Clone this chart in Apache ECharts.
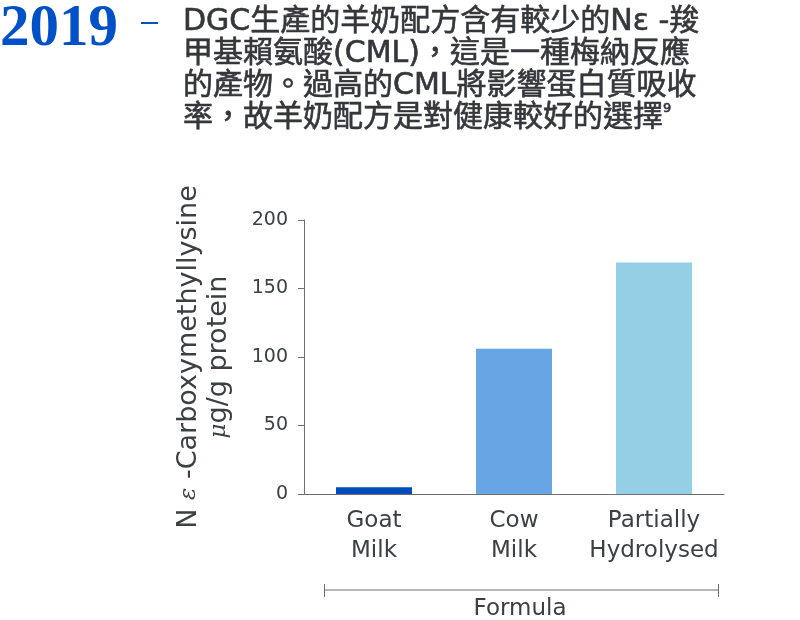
<!DOCTYPE html>
<html><head><meta charset="utf-8">
<script src="https://cdn.jsdelivr.net/npm/echarts@6/dist/echarts.min.js"></script>
<style>html,body{margin:0;padding:0;background:#fff}#c{width:800px;height:620px}</style>
</head><body><div id="c"></div>
<script>
var categories = ['Goat\nMilk', 'Cow\nMilk', 'Partially\nHydrolysed'];
var values = [5, 106, 169];
var barColors = ['#004cbb', '#68a5e4', '#94d0e5'];
var yTicks = [0, 50, 100, 150, 200];
var xAxisTitle = 'Formula';
var yAxisTitle1 = 'N {e|ε} -Carboxymethyllysine';
var yAxisTitle2 = '{e|μ}g/g protein';
var year = '2019';
var headLines = [
  'DGC生產的羊奶配方含有較少的Nε -羧',
  '甲基賴氨酸(CML)，這是一種梅納反應',
  '的產物。過高的CML將影響蛋白質吸收',
  '率，故羊奶配方是對健康較好的選擇{s|9}'
];

var chart = echarts.init(document.getElementById('c'), null, {renderer: 'canvas'});
var txt = '#3c4043';
var axisCol = '#6b6e72';
var latin = '"DejaVu Sans", "Noto Sans CJK TC", sans-serif';
chart.setOption({
  animation: false,
  backgroundColor: '#fff',
  title: {
    text: headLines.join('\n'),
    left: 178, top: 1,
    textStyle: {
      fontFamily: latin, fontSize: 30, fontWeight: 'normal', color: '#33363a', lineHeight: 32,
      textBorderColor: '#33363a', textBorderWidth: 0.6,
      rich: { s: { fontSize: 13, color: '#33363a', verticalAlign: 'top', lineHeight: 32, padding: [0,0,12,0] } }
    }
  },
  graphic: [
    { type: 'text', left: 0, top: 0, style: { text: year, font: 'bold 59px "Liberation Serif", serif', fill: '#0050c8' } },
    { type: 'rect', shape: { x: 141, y: 22, width: 17, height: 2 }, style: { fill: '#0050c8' } },
    { type: 'group', children: [
      { type: 'line', shape: { x1: 324, y1: 590, x2: 719, y2: 590 }, style: { stroke: axisCol, lineWidth: 1 } },
      { type: 'line', shape: { x1: 324.5, y1: 584, x2: 324.5, y2: 597 }, style: { stroke: axisCol, lineWidth: 1 } },
      { type: 'line', shape: { x1: 718.5, y1: 584, x2: 718.5, y2: 597 }, style: { stroke: axisCol, lineWidth: 1 } }
    ]}
  ],
  grid: { left: 304, top: 220, width: 420, bottom: 126, containLabel: false, outerBoundsMode: 'none' },
  xAxis: {
    type: 'category', data: categories,
    name: xAxisTitle, nameLocation: 'middle', nameGap: 104,
    nameTextStyle: { fontFamily: latin, fontSize: 23, color: txt, padding: [0, 0, 0, 12] },
    axisLine: { lineStyle: { color: axisCol, width: 1 } },
    axisTick: { show: false },
    axisLabel: { fontFamily: latin, fontSize: 23, color: txt, lineHeight: 30, margin: 12, interval: 0 }
  },
  yAxis: {
    type: 'value', min: 0, max: 200, interval: 50,
    name: yAxisTitle1 + '\n' + yAxisTitle2, nameLocation: 'middle', nameGap: 70, nameRotate: 90,
    nameTextStyle: { fontFamily: latin, fontSize: 27, color: txt, lineHeight: 30,
      rich: { e: { fontFamily: '"DejaVu Serif", serif', fontStyle: 'italic', fontSize: 23, color: txt, lineHeight: 30 } } },
    splitLine: { show: false },
    axisLine: { show: true, lineStyle: { color: axisCol, width: 1 } },
    axisTick: { show: true, length: 6, lineStyle: { color: axisCol } },
    axisLabel: { fontFamily: latin, fontSize: 19, color: txt, margin: 16,
      formatter: function (v) { return yTicks.indexOf(v) >= 0 ? String(v) : ''; } }
  },
  series: [{
    type: 'bar', barWidth: 76,
    data: values.map(function (v, i) { return { value: v, itemStyle: { color: barColors[i] } }; })
  }]
});
</script></body></html>
